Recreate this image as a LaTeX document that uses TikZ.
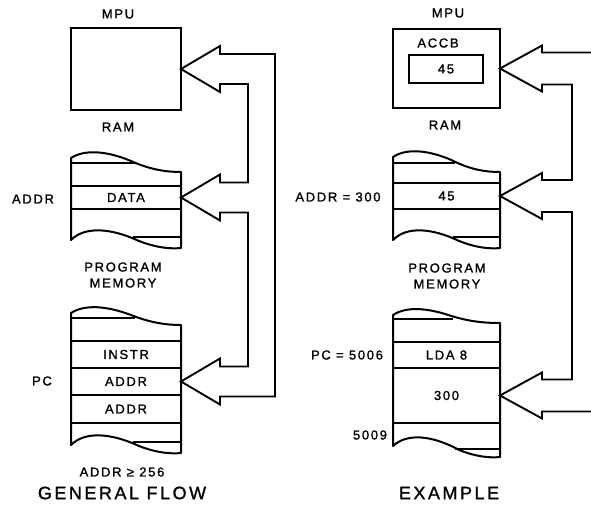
\documentclass[tikz,border=0pt]{standalone}
\usepackage{fontspec}
\newfontfamily\figfont[LetterSpace=13, FakeBold=1.2]{Liberation Sans}
\newfontfamily\capfont[LetterSpace=14, FakeBold=1.2]{Liberation Sans}
\usetikzlibrary{calc,positioning}

\begin{document}
\begin{tikzpicture}[
    x=1pt, y=-1pt,
    box/.style={draw, line width=2.2pt, inner sep=0pt, outer sep=0pt},
    cell/.style={draw, line width=2pt, minimum width=110pt, inner sep=0pt, outer sep=0pt,
      font=\figfont\fontsize{13}{16}\selectfont},
    torn/.style={draw, line width=2pt, line join=round},
    bus/.style={draw, line width=1.9pt, line join=miter},
    lbl/.style={font=\figfont\fontsize{13}{16}\selectfont, align=center, inner sep=1pt},
    title/.style={font=\capfont\fontsize{18}{20}\selectfont, inner sep=1pt},
  ]
  \useasboundingbox (0,0) rectangle (591,508);

  % ---- left half: general flow
  \node[lbl] (mpuLtxt) at (118,14) {MPU};
  \node[box, minimum width=110pt, minimum height=82pt] (mpuL) at (126,69) {};
  \node[lbl] (ramLtxt) at (118,127) {RAM};

  \begin{scope}[shift={(71,158)}]
    \draw[torn] (0,0) .. controls (14,-9) and (36,-7) .. (60,3) .. controls (80,12) and (96,14) .. (110,14)
      -- (110,90) .. controls (100,91) and (86,90) .. (68,83) .. controls (40,70) and (14,68) .. (0,82) -- cycle;
    \draw[torn] (0,5) -- (64,5);
    \draw[torn] (62,79) -- (110,79);
  \end{scope}
  \node[cell, minimum height=23pt] (data) at (126,197.5) {DATA};
  \node[lbl] (addrL) at (33,199) {ADDR};

  \node[lbl] (progLtxt) at (123,275) {PROGRAM\\MEMORY};
  \begin{scope}[shift={(71,313)}]
    \draw[torn] (0,0) .. controls (14,-9) and (36,-7) .. (60,2) .. controls (80,10) and (96,12) .. (110,12)
      -- (110,140) .. controls (100,141) and (86,140) .. (68,133) .. controls (40,120) and (14,118) .. (0,132) -- cycle;
    \draw[torn] (0,5) -- (64,5);
    \draw[torn] (62,129) -- (110,129);
  \end{scope}
  \node[cell, minimum height=27pt] (instr) at (126,354.5) {INSTR};
  \node[cell, minimum height=27pt] (addrA) at (126,381.5) {ADDR};
  \node[cell, minimum height=28pt] (addrB) at (126,409) {ADDR};
  \node[lbl] (pcL) at (42,381) {PC};
  \node[lbl] (extL) at (122,472) {ADDR ≥ 256};
  \node[title] (genL) at (122,493) {GENERAL FLOW};

  % address / data bus, left
  \coordinate (mpuLb) at ($(mpuL.east)+(39,15)$);
  \coordinate (dataB) at ($(data.east)+(39,15)$);
  \coordinate (addrAb) at ($(addrA.east)+(39,15)$);
  \coordinate (laneO) at (275,0);
  \coordinate (laneI) at (248,0);
  \draw[bus] (mpuL.east) -- ++(39,-23) -- ++(0,8) -| (laneO |- addrAb) -- (addrAb) -- ++(0,8) -- (addrA.east)
    -- ++(39,-23) -- ++(0,8) -| (laneI |- dataB) -- (dataB) -- ++(0,8) -- (data.east)
    -- ++(39,-23) -- ++(0,8) -| (laneI |- mpuLb) -- (mpuLb) -- ++(0,8) -- cycle;

  % ---- right half: example
  \node[lbl] (mpuRtxt) at (448,13) {MPU};
  \node[box, minimum width=107pt, minimum height=79pt] (mpuR) at (446.5,68.5) {};
  \node[box, line width=2pt, minimum width=74pt, minimum height=28pt, font=\figfont\fontsize{13}{16}\selectfont]
    (acc) at (446,69) {45};
  \node[lbl] (accTxt) at (438,43) {ACCB};
  \node[lbl] (ramRtxt) at (445,125) {RAM};

  \begin{scope}[shift={(393,157)}, xscale=0.973]
    \draw[torn] (0,0) .. controls (14,-9) and (36,-7) .. (60,3) .. controls (80,13) and (96,15) .. (110,15)
      -- (110,91) .. controls (100,92) and (86,91) .. (68,84) .. controls (40,71) and (14,69) .. (0,83) -- cycle;
    \draw[torn] (0,6) -- (64,6);
    \draw[torn] (62,80) -- (110,80);
  \end{scope}
  \node[cell, minimum width=107pt, minimum height=26pt] (r45) at (446.5,196) {45};
  \node[lbl] (addrR) at (338,197) {ADDR = 300};

  \node[lbl] (progRtxt) at (447,276) {PROGRAM\\MEMORY};
  \begin{scope}[shift={(393,315)}, xscale=0.973]
    \draw[torn] (0,0) .. controls (14,-9) and (36,-7) .. (60,1) .. controls (80,7) and (96,8) .. (110,8)
      -- (110,142) .. controls (100,143) and (86,142) .. (68,135) .. controls (40,120) and (14,118) .. (0,131) -- cycle;
    \draw[torn] (0,4) -- (62,4);
    \draw[torn] (64,134) -- (110,134);
  \end{scope}
  \node[cell, minimum width=107pt, minimum height=26pt] (lda) at (446.5,355) {LDA 8};
  \node[cell, minimum width=107pt, minimum height=55pt] (op300) at (446.5,395.5) {300};
  \node[lbl] (pcR) at (347,355) {PC = 5006};
  \node[lbl] (endR) at (370,435) {5009};
  \node[title] (exR) at (449,493) {EXAMPLE};

  % address / data bus, right (runs off the page)
  \coordinate (mpuRt) at ($(mpuR.east)+(42,-16)$);
  \coordinate (r45t) at ($(r45.east)+(42,-16)$);
  \coordinate (op300t) at ($(op300.east)+(42,-16)$);
  \coordinate (laneR) at (572,0);
  \coordinate (edgeR) at (591,0);
  \draw[bus] (edgeR |- mpuRt) -- (mpuRt) -- ++(0,-7) -- (mpuR.east) -- ++(42,23) -- ++(0,-7) -| (laneR |- r45t)
    -- (r45t) -- ++(0,-7) -- (r45.east) -- ++(42,23) -- ++(0,-7) -| (laneR |- op300t)
    -- (op300t) -- ++(0,-7) -- (op300.east) -- ++(42,23) -- ++(0,-7) -- ++(49,0);
\end{tikzpicture}
\end{document}
